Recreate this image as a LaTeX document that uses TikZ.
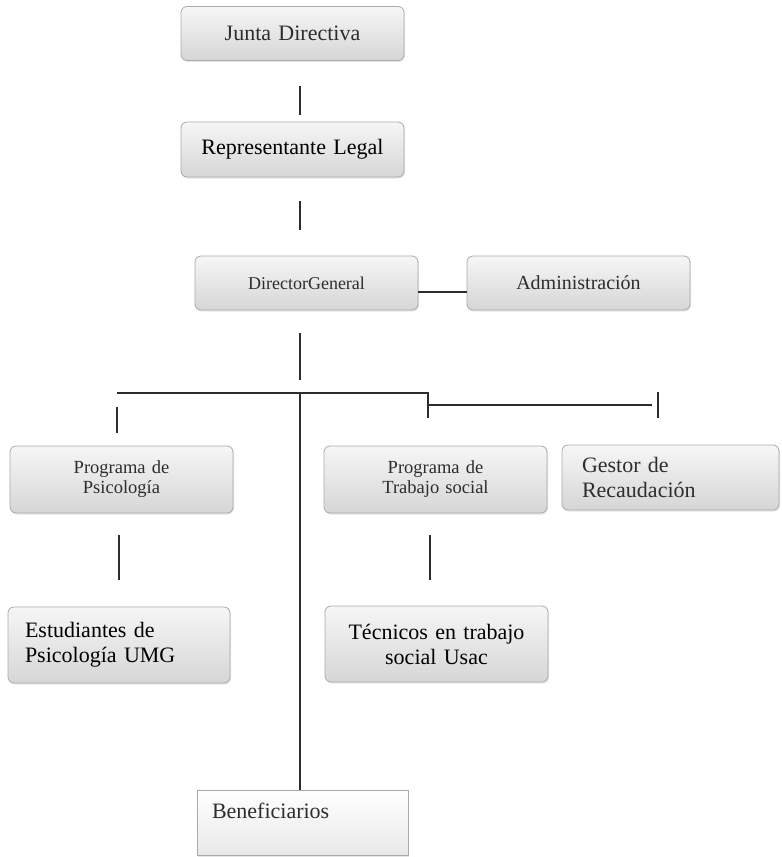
\documentclass[tikz,border=0pt]{standalone}
\usepackage{fontspec}
\setmainfont{Liberation Serif}
\usetikzlibrary{shadows}

\begin{document}
\begin{tikzpicture}[x=1pt,y=1pt,yscale=-1,xscale=1,
  box/.style={draw={rgb, 255:red, 170; green, 170; blue, 170 }, line width=0.8, rounded corners=6,
    top color={rgb, 255:red, 246; green, 246; blue, 246 }, bottom color={rgb, 255:red, 214; green, 214; blue, 214 },
    drop shadow={opacity=0.2, shadow xshift=1pt, shadow yshift=-1.5pt},
    minimum width=223pt, minimum height=54pt, inner xsep=5pt, text width=213pt, align=center,
    font=\fontsize{22}{25}\selectfont, text={rgb, 255:red, 45; green, 45; blue, 45 }},
  leftbox/.style={box, align=left},
  link/.style={draw={rgb, 255:red, 45; green, 45; blue, 45 }, line width=1.3}]
\useasboundingbox (0,0) rectangle (782,857);

%Rounded Rect: top of the chart
\node[box] (junta) at (292.5,33.5) {Junta Directiva};
\node[box, minimum height=55pt, text=black] (repr) at (292.5,149.5) {Representante Legal};
%Rounded Rect: director and administration
\node[box, font=\fontsize{18}{21}\selectfont] (dirgen) at (306.5,283) {DirectorGeneral};
\node[box, font=\fontsize{20}{24}\selectfont] (admin) at (578.5,283) {Administración};
%Rounded Rect: programs
\node[box, minimum height=67pt, font=\fontsize{18.5}{20}\selectfont] (progpsi) at (121.5,479.5) {Programa de\\Psicología};
\node[box, minimum height=67pt, font=\fontsize{18.5}{20}\selectfont] (progts) at (435.5,479.5) {Programa de\\Trabajo social};
\node[leftbox, minimum width=217pt, minimum height=65pt, inner xsep=20pt, text width=177pt] (gestor) at (670.5,477.5) {Gestor de\\Recaudación};
%Rounded Rect: students and technicians
\node[leftbox, minimum width=222pt, minimum height=76pt, inner xsep=17pt, text width=188pt, text=black] (estud) at (119,645) {Estudiantes de\\Psicología UMG};
\node[box, minimum height=76pt, text=black] (tecnic) at (436.5,644) {Técnicos en trabajo\\social Usac};
%Shape: Rectangle
\node[leftbox, rounded corners=0, anchor=north, minimum width=211pt, minimum height=0pt, inner xsep=15pt, text width=181pt,
  inner ysep=7pt, text height=21pt, text depth=30pt, top color=white, bottom color={rgb, 255:red, 232; green, 232; blue, 232 }] (benef) at (302.5,790) {Beneficiarios};

%Straight Lines
\draw[link] ([xshift=7.5pt,yshift=25pt]junta.south) -- ([xshift=7.5pt,yshift=-7pt]repr.north);
\draw[link] ([xshift=7.5pt,yshift=24pt]repr.south) -- ([xshift=-6.5pt,yshift=-26pt]dirgen.north);
\draw[link] ([yshift=9pt]dirgen.east) -- ([yshift=9pt]admin.west);
\draw[link] ([xshift=-6.5pt,yshift=23pt]dirgen.south) -- ++(0,47);
%Bus
\coordinate (bus) at (300,393);
\coordinate (busL) at (117,393);
\coordinate (busR) at (428,393);
\coordinate (busE) at (652,405);
\draw[link] (busL) -- (busR) -- ++(0,25);
\draw[link] (busR |- busE) -- (busE);
\draw[link] (bus) -- (bus |- benef.north);
\draw[link] ([xshift=-4.5pt,yshift=-13pt]progpsi.north) -- ++(0,-26);
\draw[link] ([xshift=-12.5pt,yshift=-27pt]gestor.north) -- ++(0,-26);
%Lower links
\draw[link] ([xshift=-2.5pt,yshift=22pt]progpsi.south) -- ([yshift=-27pt]estud.north);
\draw[link] ([xshift=-5.5pt,yshift=22pt]progts.south) -- ([xshift=-6.5pt,yshift=-26pt]tecnic.north);

\end{tikzpicture}
\end{document}
